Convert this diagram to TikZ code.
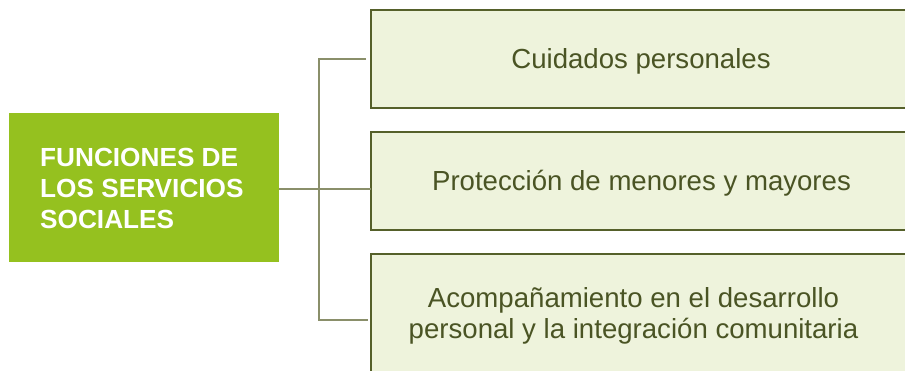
\documentclass[tikz,border=0pt]{standalone}
\usepackage{fontspec}
\setmainfont{Liberation Sans}
\definecolor{leaf}{HTML}{95C11F}
\definecolor{boxfill}{HTML}{EEF3DC}
\definecolor{boxline}{HTML}{55602A}
\definecolor{conn}{HTML}{8A8F6A}
\definecolor{txt}{HTML}{4A5424}
\tikzset{
  mainbox/.style={fill=leaf, draw=none, minimum width=270pt, minimum height=149pt, inner sep=0pt},
  itembox/.style={fill=boxfill, draw=boxline, line width=1.4pt},
  itemtext/.style={text=txt, font=\fontsize{27.6}{31}\selectfont, align=center, inner sep=0pt},
  connector/.style={draw=conn, line width=1.2pt}
}
\begin{document}
\begin{tikzpicture}[x=1pt,y=-1pt]
\useasboundingbox (0,0) rectangle (905,371);
\clip (0,0) rectangle (905,371);
\node[mainbox, anchor=north west] (main) at (9,113) {};
\node[anchor=west, inner sep=0pt, text=white, align=left, font=\bfseries\fontsize{26.2}{31}\selectfont] (maintext) at (40,188.5) {FUNCIONES DE\\LOS SERVICIOS\\SOCIALES};
\path[itembox] (371,10) rectangle (920,108);
\path[itembox] (371,132) rectangle (920,230);
\path[itembox] (371,254) rectangle (920,390);
\coordinate (b1) at (371,59);
\coordinate (b2) at (371,189);
\coordinate (b3) at (371,320);
\node[itemtext] (t1) at (641,61) {Cuidados personales};
\node[itemtext] (t2) at (641.5,183) {Protección de menores y mayores};
\node[itemtext] (t3) at (633.5,316) {Acompañamiento en el desarrollo\\personal y la integración comunitaria};
\coordinate (j) at (319,189);
\coordinate (e1) at (366,59);
\coordinate (e3) at (368,320);
\draw[connector] (main.east |- j) -- (b2);
\draw[connector] (e1) -- (e1 -| j) -- (e3 -| j) -- (e3);
\end{tikzpicture}
\end{document}
